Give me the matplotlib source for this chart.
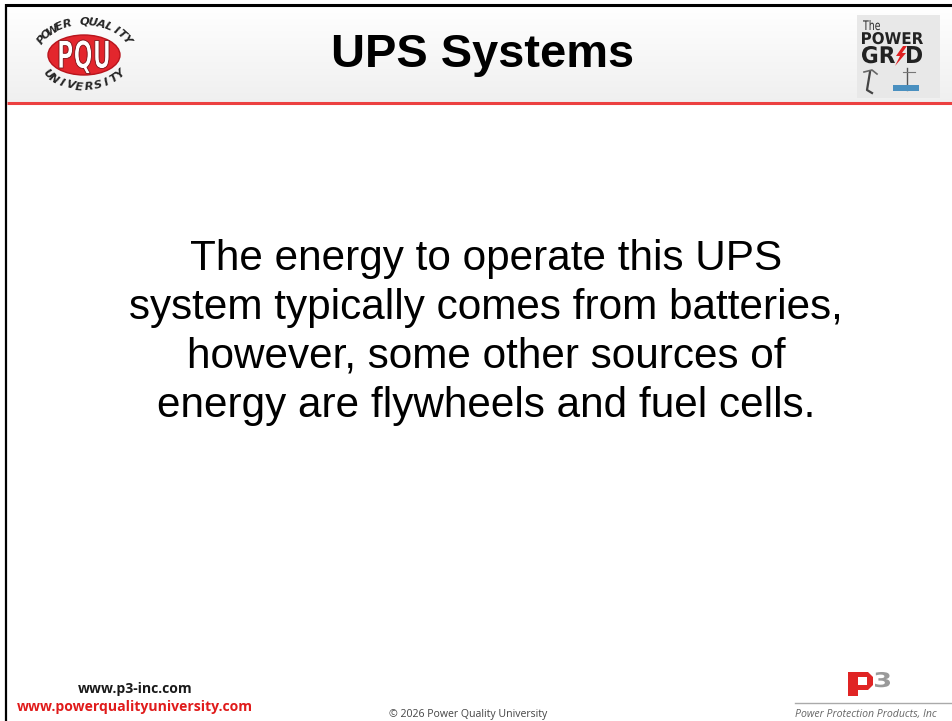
import numpy as np
import matplotlib
matplotlib.use("Agg")
import matplotlib.pyplot as plt
from matplotlib.patches import Ellipse, Rectangle, Polygon, PathPatch
from matplotlib.textpath import TextPath
from matplotlib.font_manager import FontProperties
from matplotlib.transforms import Affine2D

# slide text
title = "UPS Systems"
body_lines = ["The energy to operate this UPS",
              "system typically comes from batteries,",
              "however, some other sources of",
              "energy are flywheels and fuel cells."]
footer_urls = ["www.p3-inc.com", "www.powerqualityuniversity.com"]
footer_colors = ["#1a1a1a", "#e01b1b"]
copyright_text = "\u00a9 2026 Power Quality University"
p3_caption = "Power Protection Products, Inc"
pqu_top = "POWER QUALITY"
pqu_bottom = "UNIVERSITY"

W, H = 953, 721
fig = plt.figure(figsize=(W / 100, H / 100), dpi=100)
ax = fig.add_axes([0, 0, 1, 1])
ax.set_xlim(0, W)
ax.set_ylim(H, 0)
ax.axis("off")

def pt(px):
    return px * 72 / 100

def box_text(s, x0, x1, y0, y1, color, family="DejaVu Sans", weight="bold", z=5,
             edgecolor="none", lw=0):
    # squeeze a text path into the box x0..x1, y0 (top) .. y1 (baseline)
    tp = TextPath((0, 0), s, size=10, prop=FontProperties(family=family, weight=weight))
    ext = tp.get_extents()
    sx = (x1 - x0) / ext.width
    sy = (y1 - y0) / ext.y1
    tr = Affine2D().translate(-ext.x0, 0).scale(sx, -sy).translate(x0, y1)
    ax.add_patch(PathPatch(tr.transform_path(tp), facecolor=color, edgecolor=edgecolor,
                           lw=lw, zorder=z))

# header gradient
grad = np.linspace(1.0, 0.94, 64).reshape(-1, 1)
ax.imshow(np.dstack([grad, grad, grad]), extent=(7, W, 102, 6), aspect="auto", zorder=0)
ax.plot([6, W], [5, 5], color="black", lw=2.2, solid_capstyle="butt", zorder=5)
ax.plot([6, 6], [4, H], color="black", lw=1.6, solid_capstyle="butt", zorder=5)
ax.plot([7, W], [103, 103], color="#ec4040", lw=2.2, solid_capstyle="butt", zorder=5)

# title
ax.text(483, 67, title, fontsize=pt(47), fontweight="bold", family="Liberation Sans",
        ha="center", va="baseline", color="black")

# body
for i, line in enumerate(body_lines):
    ax.text(486, 259 + i * 48.9, line, fontsize=pt(42.3), family="Liberation Sans",
            ha="center", va="center", color="black")

# PQU logo
cx, cy = 84, 55
ax.add_patch(Ellipse((cx, cy), 72, 40, facecolor="#e3262d", edgecolor="#b8141c", lw=1, zorder=3))
box_text("PQU", 59, 109, 40, 68, "white", edgecolor="#7a1015", lw=0.6)

def arc_text(s, rx, ry, a0, a1, top):
    angs = np.linspace(a0, a1, len(s))
    for ch, a in zip(s, angs):
        r = np.radians(a)
        x = cx + rx * np.cos(r)
        y = cy - ry * np.sin(r)
        if top:
            rot = np.degrees(np.arctan2(-ry * np.cos(r), rx * np.sin(r)))
        else:
            rot = np.degrees(np.arctan2(ry * np.cos(r), -rx * np.sin(r)))
        ax.text(x, y, ch, fontsize=pt(11.5), fontweight="bold", family="DejaVu Sans Condensed",
                style="italic", rotation=rot, rotation_mode="anchor", ha="center", va="center",
                color="#262626", zorder=5)

arc_text(pqu_top, 48, 33, 152, 28, True)
arc_text(pqu_bottom, 45, 32, 216, 324, False)

# Power Grid logo
ax.add_patch(Rectangle((857, 15), 83, 83, facecolor="#e8e8e8", edgecolor="none", zorder=2))
box_text("The", 863, 880, 20, 30, "#2a2a2a", family="DejaVu Sans Condensed", weight="normal", z=3)
box_text("POWER", 862, 923, 32, 44, "#222222", z=3)
box_text("GR", 862, 895, 46, 63, "#222222", z=3)
box_text("D", 907, 922, 46, 63, "#222222", z=3)
ax.add_patch(Polygon([[903, 46], [896, 56], [900, 56], [895, 66], [906, 53], [902, 53], [907, 46]],
                     facecolor="#e02020", edgecolor="none", zorder=3))
ax.plot([870, 867, 872], [72, 90, 93], color="#444444", lw=1.6, zorder=3)
ax.plot([864, 872, 877], [72, 70, 74], color="#666666", lw=1.2, zorder=3)
ax.plot([907, 907], [68, 90], color="#555555", lw=1, zorder=3)
ax.plot([903, 915], [72, 72], color="#777777", lw=0.8, zorder=3)
ax.add_patch(Rectangle((893, 85), 26, 6, facecolor="#4a90c0", edgecolor="none", zorder=3))

# footer urls
for i, (u, c) in enumerate(zip(footer_urls, footer_colors)):
    ax.text(135, 689 + i * 18, u, fontsize=pt(14), fontweight="bold", family="Open Sans",
            color=c, ha="center", va="center")
ax.text(468, 714, copyright_text, fontsize=pt(10.5), family="Open Sans", color="#444444",
        ha="center", va="center")

# P3 logo
ax.add_patch(Polygon([[848, 672], [868, 672], [873, 677], [873, 685], [868, 690], [858, 690],
                      [858, 696], [848, 696]], facecolor="#e02424", edgecolor="none"))
ax.add_patch(Rectangle((858, 677), 9, 8, facecolor="white", edgecolor="none"))
box_text("3", 875, 890, 672, 687, "#9a9a9a", z=3)
ax.plot([795, W], [703, 703], color="#aaaaaa", lw=1)
ax.text(795, 714, p3_caption, fontsize=pt(10.5), family="Open Sans", style="italic",
        color="#666666", ha="left", va="center")

fig.savefig("out.png", dpi=100)
